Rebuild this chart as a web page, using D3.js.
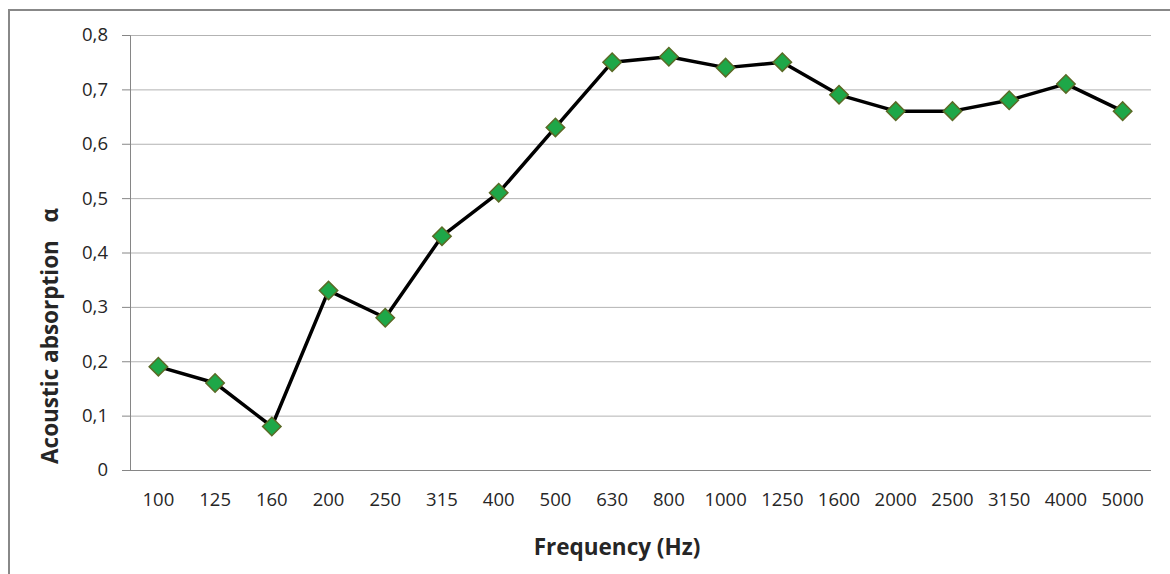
<!DOCTYPE html>
<html>
<head>
<meta charset="utf-8">
<script src="https://cdn.jsdelivr.net/npm/d3@7"></script>
<style>
  body { margin: 0; background: #fff; }
  .tick text { font-family: "Open Sans", sans-serif; font-size: 18.5px; fill: #262626; }
  .label { font-family: "Open Sans", sans-serif; font-size: 22.5px; font-weight: bold; fill: #262626; }
</style>
</head>
<body>
<div id="container"></div>
<script>
    const freqs = ['100', '125', '160', '200', '250', '315', '400', '500', '630', '800',
      '1000', '1250', '1600', '2000', '2500', '3150', '4000', '5000'];
    const alpha = [0.19, 0.16, 0.08, 0.33, 0.28, 0.43, 0.51, 0.63, 0.75, 0.76,
      0.74, 0.75, 0.69, 0.66, 0.66, 0.68, 0.71, 0.66];
    const yTicks = [0, 0.1, 0.2, 0.3, 0.4, 0.5, 0.6, 0.7, 0.8];

    const W = 1170, H = 574;
    const plotLeft = 130, plotRight = 1151, plotTop = 35, plotBottom = 470;

    const svg = d3.select('#container').append('svg')
      .attr('width', W)
      .attr('height', H);

    // outer chart frame
    svg.append('rect')
      .attr('x', 9).attr('y', 10)
      .attr('width', W + 20).attr('height', H + 20)
      .attr('fill', 'none')
      .attr('stroke', '#888')
      .attr('stroke-width', 2);

    const xScale = d3.scaleBand()
      .domain(freqs)
      .range([plotLeft, plotRight]);

    const yScale = d3.scaleLinear()
      .domain([0, 0.8])
      .range([plotBottom, plotTop]);

    // horizontal grid
    svg.append('g')
      .attr('transform', `translate(${plotLeft},0)`)
      .call(d3.axisLeft(yScale).tickValues(yTicks).tickSize(-(plotRight - plotLeft)).tickFormat(''))
      .call(g => g.select('.domain').remove())
      .call(g => g.selectAll('.tick line').attr('stroke', '#b3b3b3'));

    // y axis
    svg.append('g')
      .attr('transform', `translate(${plotLeft},0)`)
      .call(d3.axisLeft(yScale).tickValues(yTicks).tickSize(8).tickPadding(14)
        .tickFormat(d => d3.format('.1f')(d).replace('.', ',').replace(/^0,0$/, '0')))
      .call(g => g.select('.domain').attr('stroke', '#868686'))
      .call(g => g.selectAll('.tick line').attr('stroke', '#868686'));

    // x axis
    svg.append('g')
      .attr('transform', `translate(0,${plotBottom})`)
      .call(d3.axisBottom(xScale).tickSize(0).tickPadding(23))
      .call(g => g.select('.domain').attr('stroke', '#868686').attr('d', `M${plotLeft - 8},0.5H${plotRight}`));

    const cx = d => xScale(d) + xScale.bandwidth() / 2;

    const line = d3.line()
      .x((d, i) => cx(freqs[i]))
      .y(d => yScale(d));

    svg.append('path')
      .datum(alpha)
      .attr('d', line)
      .attr('fill', 'none')
      .attr('stroke', '#000')
      .attr('stroke-width', 3.5)
      .attr('stroke-linejoin', 'round');

    svg.selectAll('.marker')
      .data(alpha)
      .enter()
      .append('path')
      .attr('class', 'marker')
      .attr('d', d3.symbol(d3.symbolSquare, 170))
      .attr('transform', (d, i) => `translate(${cx(freqs[i])},${yScale(d)}) rotate(45)`)
      .attr('fill', '#1ea748')
      .attr('stroke', '#5a6a26')
      .attr('stroke-width', 1.5);

    svg.append('text')
      .attr('class', 'label')
      .attr('x', 617)
      .attr('y', 555)
      .attr('text-anchor', 'middle')
      .text('Frequency (Hz)');

    svg.append('text')
      .attr('class', 'label')
      .attr('transform', 'translate(58,336) rotate(-90)')
      .attr('text-anchor', 'middle')
      .attr('xml:space', 'preserve')
      .style('white-space', 'pre')
      .text('Acoustic absorption   α');
</script>
</body>
</html>
